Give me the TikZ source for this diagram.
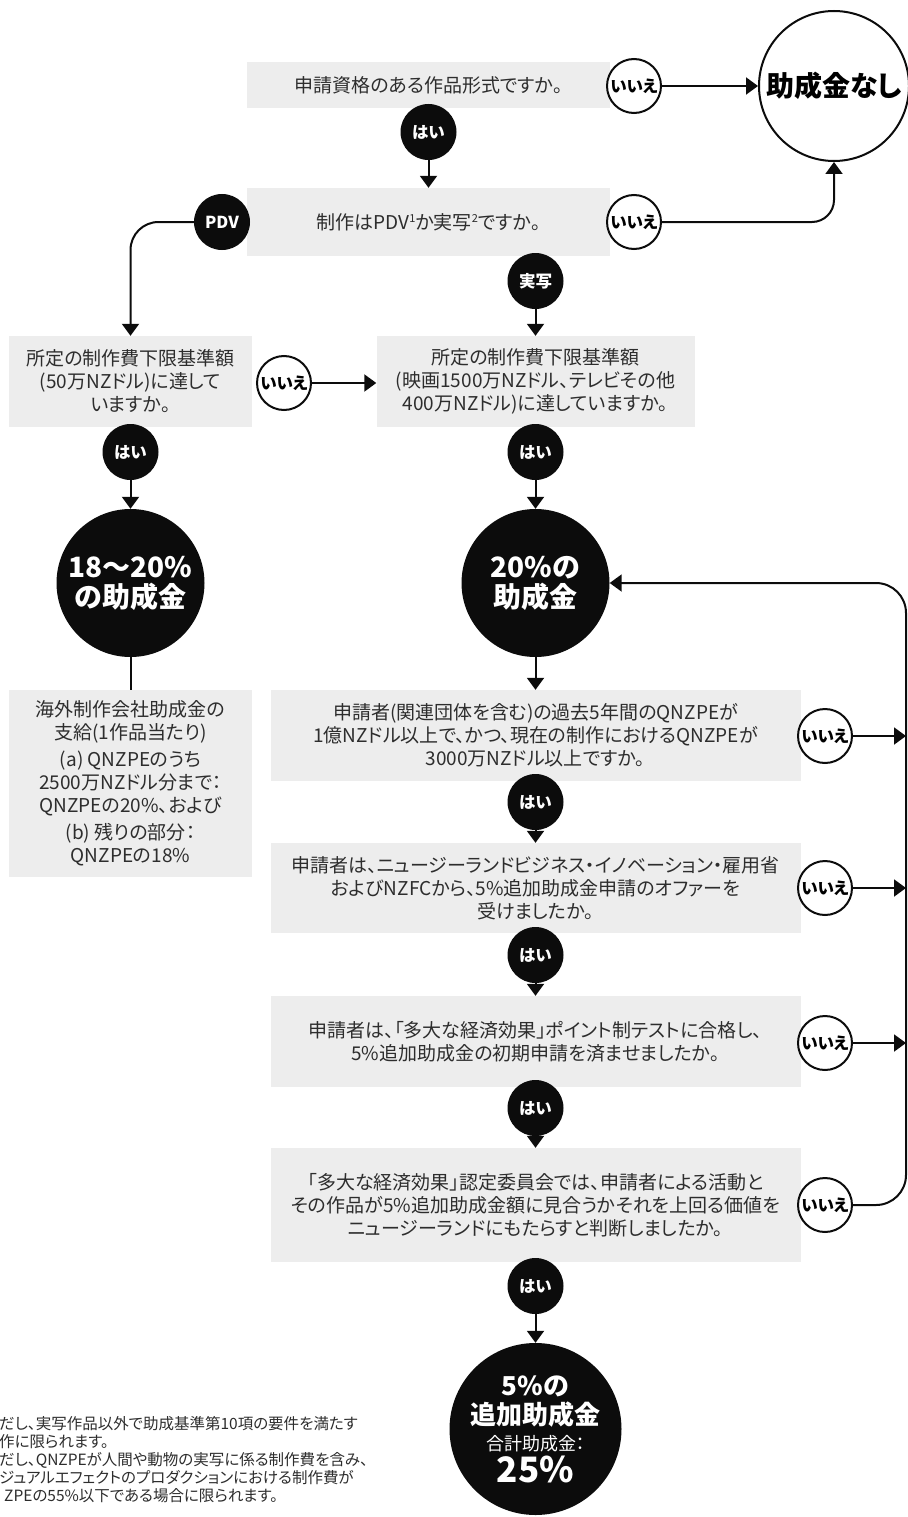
\documentclass[tikz,border=0pt]{standalone}
\usepackage{fontspec}
\setmainfont{Noto Sans CJK JP}[RawFeature=+palt]
\usetikzlibrary{arrows.meta}
\definecolor{boxgray}{RGB}{237,237,237}
\definecolor{inkblack}{RGB}{12,12,12}
\definecolor{bodytext}{RGB}{45,45,45}
\newcommand{\notemark}[1]{\raisebox{6.5pt}{\fontsize{11}{11}\selectfont #1}}
\newcommand{\grantfont}{\fontsize{26}{29}\selectfont\bfseries\lineskiplimit=-50pt\relax}
\begin{document}
\begin{tikzpicture}[x=1pt, y=-1pt,
        qbox/.style={rectangle, fill=boxgray, inner sep=0pt, align=center, text=bodytext, font=\fontsize{19}{23}\selectfont},
        yesdot/.style={circle, fill=inkblack, text=white, minimum size=56pt, inner sep=0pt, font=\fontsize{16.5}{18}\selectfont\bfseries},
        nodot/.style={circle, draw=inkblack, line width=2pt, fill=white, minimum size=54pt, inner sep=0pt, font=\fontsize{16.5}{18}\selectfont\bfseries},
        bigdot/.style={circle, fill=inkblack, text=white, minimum size=148pt, inner sep=0pt, align=center, font=\fontsize{28}{30}\selectfont\bfseries},
        link/.style={line width=2pt, draw=inkblack},
        tip/.style={link, -{Triangle[width=17pt, length=12pt]}}
    ]
        \useasboundingbox (0,0) rectangle (907,1517);
        \node[qbox, minimum width=363pt, minimum height=46pt] (elig) at (428.5,85) {申請資格のある作品形式ですか。};
        \node[qbox, minimum width=363pt, minimum height=68pt] (kind) at (428.5,222) {制作はPDV\notemark{1}か実写\notemark{2}ですか。};
        \node[qbox, minimum width=243pt, minimum height=91pt] (pdvmin) at (130.5,381.5) {所定の制作費下限基準額\\(50万NZドル)に達して\\いますか。};
        \node[qbox, minimum width=318pt, minimum height=91pt] (lamin) at (535.5,381.5) {所定の制作費下限基準額\\(映画1500万NZドル、テレビその他\\400万NZドル)に達していますか。};
        \node[qbox, minimum width=243pt, minimum height=187pt] (pdvpay) at (130.5,783.5) {海外制作会社助成金の\\支給(1作品当たり)\\[4pt](a) QNZPEのうち\\2500万NZドル分まで：\\QNZPEの20\%、および\\[4pt](b) 残りの部分：\\QNZPEの18\%};
        \node[qbox, minimum width=530pt, minimum height=91pt] (spend) at (535.5,735.5) {申請者(関連団体を含む)の過去5年間のQNZPEが\\1億NZドル以上で、かつ、現在の制作におけるQNZPEが\\3000万NZドル以上ですか。};
        \node[qbox, minimum width=530pt, minimum height=90pt] (offer) at (535.5,888) {申請者は、ニュージーランドビジネス・イノベーション・雇用省\\およびNZFCから、5\%追加助成金申請のオファーを\\受けましたか。};
        \node[qbox, minimum width=530pt, minimum height=91pt] (test) at (535.5,1041.5) {申請者は、「多大な経済効果」ポイント制テストに合格し、\\5\%追加助成金の初期申請を済ませましたか。};
        \node[qbox, minimum width=530pt, minimum height=114pt] (panel) at (535.5,1205) {「多大な経済効果」認定委員会では、申請者による活動と\\その作品が5\%追加助成金額に見合うかそれを上回る価値を\\ニュージーランドにもたらすと判断しましたか。};

        \node[yesdot] (yes1) at (428.5,132) {はい};
        \node[nodot] (no1) at (634,86) {いいえ};
        \node[circle, draw=inkblack, line width=2pt, fill=white, minimum size=150pt, inner sep=0pt, font=\fontsize{28}{30}\selectfont\bfseries] (nogrant) at (834,86) {助成金なし};
        \node[yesdot] (pdv) at (222,222) {PDV};
        \node[nodot] (no2) at (634,222) {いいえ};
        \node[yesdot] (live) at (535.5,281) {実写};
        \node[nodot] (no3) at (284,383) {いいえ};
        \node[yesdot] (yes3) at (130.5,452) {はい};
        \node[yesdot] (yes4) at (535.5,452) {はい};
        \node[bigdot] (g18) at (130.5,583) {18～20\%\\の助成金};
        \node[bigdot] (g20) at (535.5,583) {20\%の\\助成金};
        \node[nodot] (no5) at (825,736) {いいえ};
        \node[yesdot] (yes5) at (535.5,802) {はい};
        \node[nodot] (no6) at (825,888) {いいえ};
        \node[yesdot] (yes6) at (535.5,955) {はい};
        \node[nodot] (no7) at (825,1043) {いいえ};
        \node[yesdot] (yes7) at (535.5,1108) {はい};
        \node[nodot] (no8) at (825,1205) {いいえ};
        \node[yesdot] (yes8) at (535.5,1286) {はい};
        \node[bigdot, minimum size=172pt, font=\grantfont] (g25) at (535.5,1429) {5\%の\\追加助成金\\[-3pt]\fontsize{18}{20}\selectfont\mdseries 合計助成金：\\[3pt]\fontsize{35}{35}\selectfont 25\%};

        \coordinate (edgeR) at (906,0);
        \coordinate (loopR) at (906,583);
        \draw[tip] (no1) -- (nogrant);
        \draw[tip] (yes1) -- (kind);
        \draw[tip, rounded corners=28pt] (pdv.west) -| (pdvmin.north);
        \draw[tip, rounded corners=22pt] (no2.east) -| (nogrant.south);
        \draw[tip] (live) -- (lamin);
        \draw[tip] (no3.east) -- (no3.east -| lamin.west);
        \draw[tip] (yes3) -- (g18);
        \draw[link] (g18) -- (pdvpay);
        \draw[tip] (yes4) -- (g20);
        \draw[tip] (g20) -- (spend);
        \draw[tip] (yes5) -- (offer);
        \draw[tip] (yes6) -- (test);
        \draw[tip] (yes7) -- (panel);
        \draw[tip] (yes8) -- (g25);
        \foreach \n in {no5,no6,no7} {
            \draw[tip] (\n.east) -- (\n.east -| edgeR);
        }
        \draw[tip, rounded corners=30pt] (no8.east) -| (loopR) -- (g20.east);

        \node[anchor=north west, inner sep=0pt, align=left, text=bodytext, font=\fontsize{15.5}{18}\selectfont] (notes) at (-1,1416) {だし、実写作品以外で助成基準第10項の要件を満たす\\作に限られます。\\だし、QNZPEが人間や動物の実写に係る制作費を含み、\\ジュアルエフェクトのプロダクションにおける制作費が\\\hspace*{5pt}ZPEの55\%以下である場合に限られます。};
    \end{tikzpicture}
\end{document}
